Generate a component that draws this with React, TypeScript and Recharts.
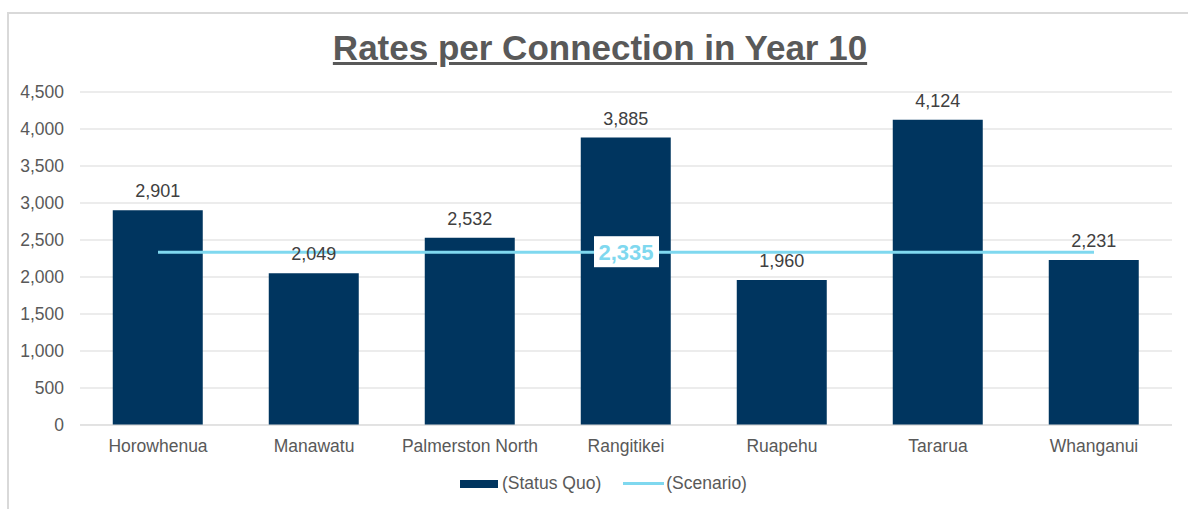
import React from "react";
import { ComposedChart, Bar, Line, XAxis, YAxis, CartesianGrid, LabelList } from "recharts";

const councils = ["Horowhenua", "Manawatu", "Palmerston North", "Rangitikei", "Ruapehu", "Tararua", "Whanganui"];
const statusQuo = [2901, 2049, 2532, 3885, 1960, 4124, 2231];
const scenario = [2335, 2335, 2335, 2335, 2335, 2335, 2335];
const yTicks = [0, 500, 1000, 1500, 2000, 2500, 3000, 3500, 4000, 4500];

const data = councils.map((name, i) => ({
  name,
  statusQuo: statusQuo[i],
  scenario: scenario[i],
}));

const fmt = (v: number) => v.toLocaleString("en-US");

const NAVY = "#00355F";
const SKY = "#7FD8EF";
const GREY = "#595959";
const FONT = "Arial, 'Liberation Sans', sans-serif";

const ScenarioLabel = (props: any) => {
  const { x, y, value, index } = props;
  if (index !== 3) return null;
  return (
    <g>
      <rect x={x - 32} y={y - 16} width={65} height={31} fill="#fff" />
      <text x={x} y={y} dy={8} textAnchor="middle" fill={SKY} fontSize={22} fontWeight="bold" fontFamily={FONT}>
        {fmt(value)}
      </text>
    </g>
  );
};

export default function App() {
  return (
    <div style={{ position: "absolute", left: 0, top: 0, width: 1188, height: 509, background: "#fff", fontFamily: FONT, overflow: "hidden" }}>
      <div style={{ position: "absolute", left: 7, top: 12, width: 1200, height: 520, borderLeft: "2px solid #d9d9d9", borderTop: "2px solid #d9d9d9" }} />
      <div style={{ position: "absolute", left: 0, top: 28, width: 1200, lineHeight: "40px", textAlign: "center", fontSize: 35, fontWeight: "bold", color: GREY, textDecoration: "underline" }}>
        Rates per Connection in Year 10
      </div>
      <div style={{ position: "absolute", left: 0, top: 0 }}>
        <ComposedChart width={1188} height={509} data={data} margin={{ top: 92, right: 16, bottom: 0, left: 0 }} barCategoryGap="21%">
          <CartesianGrid vertical={false} stroke="#d9d9d9" />
          <XAxis
            dataKey="name"
            height={84}
            tickLine={false}
            axisLine={{ stroke: "#d9d9d9" }}
            tickMargin={9}
            tick={{ fill: GREY, fontSize: 17.5, fontFamily: FONT }}
            interval={0}
          />
          <YAxis
            width={80}
            domain={[0, 4500]}
            ticks={yTicks}
            tickLine={false}
            axisLine={false}
            tickMargin={10}
            tickFormatter={fmt}
            tick={{ fill: GREY, fontSize: 17.5, fontFamily: FONT }}
          />
          <Bar dataKey="statusQuo" fill={NAVY} isAnimationActive={false}>
            <LabelList dataKey="statusQuo" position="top" offset={13} formatter={(v: any) => fmt(v)} fill="#404040" fontSize={18} fontFamily={FONT} />
          </Bar>
          <Line dataKey="scenario" stroke={SKY} strokeWidth={3} dot={false} activeDot={false} isAnimationActive={false}>
            <LabelList dataKey="scenario" content={<ScenarioLabel />} />
          </Line>
        </ComposedChart>
      </div>
      <div style={{ position: "absolute", left: 460, top: 473, display: "flex", alignItems: "center", fontSize: 17.5, color: GREY }}>
        <span style={{ display: "inline-block", width: 38, height: 8, background: NAVY, marginRight: 4 }} />
        <span>(Status Quo)</span>
        <span style={{ display: "inline-block", width: 41, height: 3, background: SKY, marginLeft: 22, marginRight: 2 }} />
        <span>(Scenario)</span>
      </div>
    </div>
  );
}
